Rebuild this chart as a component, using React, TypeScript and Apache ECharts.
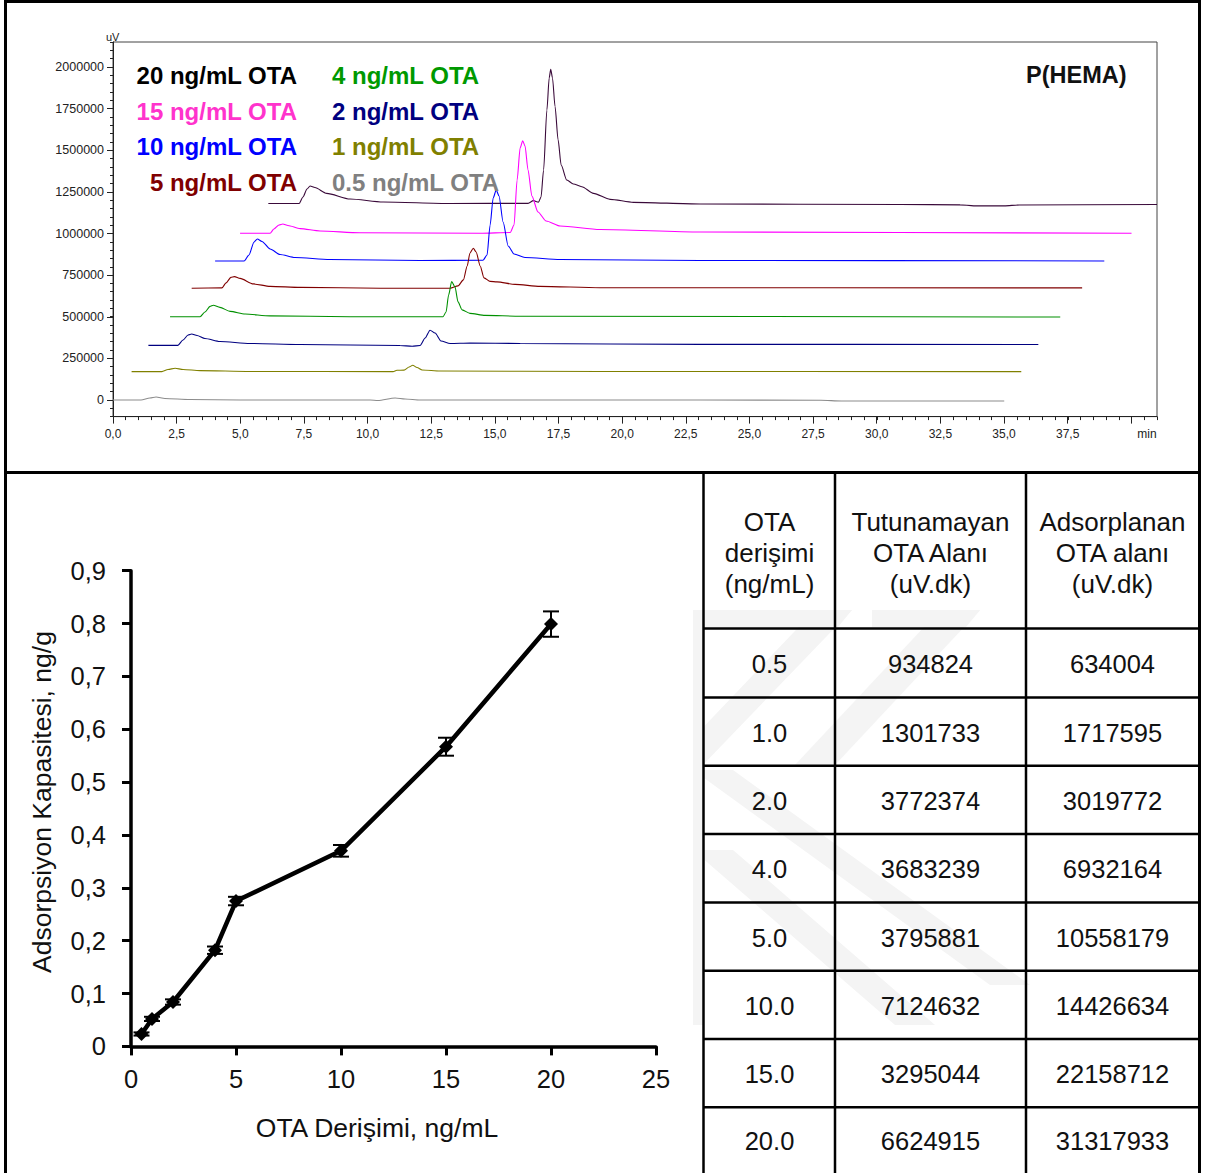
import React, { useEffect, useRef } from "react";
import * as echarts from "echarts";

const W = 1206;
const H = 1173;
const FONT = "Arial, 'Liberation Sans', sans-serif";

// ---------- Chromatogram traces: [time (min), signal (uV)] ----------
const trace20 = [
  [6.1, 1180000], [7.31, 1180000], [7.46, 1219000], [7.62, 1267000], [7.74, 1285000], [7.93, 1276000],
  [8.39, 1241000], [9.31, 1207000], [10.61, 1189000], [13.24, 1180000], [16.3, 1181000], [16.51, 1197000],
  [16.71, 1188000], [16.81, 1219000], [16.91, 1381000], [17.04, 1742000], [17.13, 1934000], [17.19, 1986000],
  [17.26, 1934000], [17.36, 1762000], [17.48, 1562000], [17.6, 1411000], [17.82, 1321000], [18.08, 1297000],
  [18.41, 1281000], [18.87, 1241000], [19.52, 1205000], [20.44, 1187000], [23.06, 1177000], [30.92, 1174000],
  [33.27, 1172000], [33.8, 1166000], [35.0, 1166000], [35.6, 1171000], [41.0, 1174000],
];
const trace15 = [
  [4.99, 1001000], [6.17, 1001000], [6.32, 1027000], [6.52, 1051000], [6.67, 1057000], [6.87, 1048000],
  [7.35, 1029000], [8.13, 1015000], [9.7, 1004000], [14.42, 1001000], [15.6, 1006000], [15.75, 1051000],
  [15.87, 1321000], [15.99, 1514000], [16.09, 1557000], [16.18, 1526000], [16.3, 1381000], [16.45, 1225000],
  [16.69, 1129000], [17.01, 1075000], [17.56, 1045000], [19.13, 1024000], [23.06, 1009000], [40.0, 1001000],
];
const trace10 = [
  [4.01, 835000], [5.15, 835000], [5.34, 871000], [5.54, 949000], [5.67, 967000], [5.85, 952000],
  [6.17, 907000], [6.56, 874000], [7.15, 856000], [8.52, 844000], [12.06, 838000], [14.53, 839000],
  [14.69, 871000], [14.81, 1051000], [14.93, 1213000], [15.05, 1261000], [15.16, 1225000], [15.32, 1069000],
  [15.52, 925000], [15.75, 877000], [16.18, 856000], [17.56, 844000], [23.06, 838000], [38.93, 835000],
];
const trace5 = [
  [3.09, 671000], [4.28, 673000], [4.44, 703000], [4.63, 736000], [4.77, 741000], [4.99, 730000],
  [5.51, 697000], [6.17, 682000], [7.35, 676000], [10.49, 671000], [13.24, 671000], [13.55, 685000],
  [13.76, 721000], [13.91, 805000], [14.02, 883000], [14.15, 911000], [14.26, 889000], [14.42, 805000],
  [14.57, 733000], [14.81, 712000], [15.08, 709000], [15.79, 694000], [16.77, 682000], [19.13, 674000],
  [38.06, 673000],
];
const trace4 = [
  [2.24, 500000], [3.42, 500000], [3.61, 528000], [3.81, 562000], [3.94, 569000], [4.2, 556000],
  [4.6, 532000], [5.19, 516000], [6.17, 505000], [9.31, 500000], [12.96, 500000], [13.08, 528000],
  [13.18, 630000], [13.3, 711000], [13.43, 679000], [13.55, 589000], [13.71, 541000], [14.02, 520000],
  [14.61, 508000], [15.99, 503000], [37.2, 498000],
];
const trace2 = [
  [1.39, 328000], [2.55, 328000], [2.75, 360000], [2.95, 390000], [3.09, 396000], [3.3, 387000],
  [3.61, 369000], [4.2, 351000], [5.38, 339000], [7.35, 333000], [11.27, 327000], [11.75, 323000],
  [12.06, 327000], [12.26, 372000], [12.45, 419000], [12.65, 402000], [12.88, 354000], [13.24, 339000],
  [14.02, 342000], [15.99, 339000], [23.06, 334000], [36.34, 333000],
];
const trace1 = [
  [0.73, 170000], [1.92, 170000], [2.16, 183000], [2.44, 190000], [2.75, 183000], [3.42, 176000],
  [5.38, 171000], [11.0, 170000], [11.15, 178000], [11.43, 179000], [11.63, 198000], [11.77, 208000],
  [11.94, 195000], [12.14, 180000], [12.85, 174000], [19.13, 171000], [35.67, 170000],
];
const trace05 = [
  [0, 0], [1.1, 0], [1.45, 12000], [1.69, 18000], [2.04, 9000], [3.02, 3000], [5.0, 0], [10.1, 0],
  [10.4, -3000], [11.08, 12000], [11.47, 6000], [12.06, 0], [23.06, 0], [27.8, -2000], [28.6, -6000],
  [35.0, -6000],
];

const traces = [trace20, trace15, trace10, trace5, trace4, trace2, trace1, trace05];
const traceNames = [
  "20 ng/mL OTA", "15 ng/mL OTA", "10 ng/mL OTA", "5 ng/mL OTA",
  "4 ng/mL OTA", "2 ng/mL OTA", "1 ng/mL OTA", "0.5 ng/mL OTA",
];
const traceColors = ["#3a0a3a", "#ff00ff", "#0000ff", "#800000", "#009000", "#000080", "#808000", "#8c8c8c"];
const legendColors = ["#000000", "#ff33cc", "#0000ff", "#800000", "#009900", "#000080", "#808000", "#808080"];

// ---------- Adsorption capacity ----------
const otaConc = [0.5, 1, 2, 4, 5, 10, 15, 20];
const capacity = [0.0235, 0.052, 0.084, 0.182, 0.275, 0.37, 0.567, 0.799];
const capacityErr = [0.003, 0.004, 0.005, 0.007, 0.008, 0.011, 0.017, 0.024];

// ---------- Table ----------
const tableHeaders = [
  ["OTA", "derişimi", "(ng/mL)"],
  ["Tutunamayan", "OTA Alanı", "(uV.dk)"],
  ["Adsorplanan", "OTA alanı", "(uV.dk)"],
];
const tableConc = ["0.5", "1.0", "2.0", "4.0", "5.0", "10.0", "15.0", "20.0"];
const tableUnretained = ["934824", "1301733", "3772374", "3683239", "3795881", "7124632", "3295044", "6624915"];
const tableAdsorbed = ["634004", "1717595", "3019772", "6932164", "10558179", "14426634", "22158712", "31317933"];

function txt(text: string, x: number, y: number, size: number, color: string, align = "center", weight = "normal", extra: any = {}) {
  return {
    type: "text",
    x,
    y,
    z: 20,
    ...extra,
    style: {
      text,
      fill: color,
      fontSize: size,
      fontFamily: FONT,
      fontWeight: weight,
      align,
      textAlign: align,
      verticalAlign: "middle",
      textVerticalAlign: "middle",
    },
  };
}
function ln(x1: number, y1: number, x2: number, y2: number, w: number, color = "#000") {
  return { type: "line", z: 15, shape: { x1, y1, x2, y2 }, style: { stroke: color, lineWidth: w } };
}
const WM = "#f4f4f4";
function poly(points: number[][]) {
  return { type: "polygon", z: 1, shape: { points }, style: { fill: WM } };
}

function buildOption() {
  const commaFmt = (v: number, d: number) => v.toFixed(d).replace(".", ",");

  const graphics: any[] = [];
  // watermark
  graphics.push(poly([[693, 610], [852, 610], [838, 627], [693, 627]]));
  graphics.push(poly([[815, 610], [852, 610], [700, 768], [693, 768], [693, 738]]));
  graphics.push(poly([[872, 610], [980, 610], [966, 627], [872, 627]]));
  graphics.push(poly([[940, 610], [980, 610], [835, 765], [795, 765]]));
  graphics.push(poly([[693, 770], [733, 770], [1030, 985], [990, 985]]));
  graphics.push(poly([[693, 850], [733, 850], [935, 1025], [895, 1025]]));
  graphics.push({ type: "rect", z: 1, shape: { x: 693, y: 610, width: 10, height: 415 }, style: { fill: WM } });

  // frame
  graphics.push(ln(5.5, 0, 5.5, H, 3));
  graphics.push(ln(4, 1.5, 1201, 1.5, 3));
  graphics.push(ln(1199.5, 0, 1199.5, H, 3));
  graphics.push(ln(4, 472.5, 1201, 472.5, 3));

  // table grid
  [703.5, 835, 1026].forEach((x) => graphics.push(ln(x, 472, x, H, 2.5)));
  const rowLines = [628.5, 697.5, 765.7, 834, 902.5, 970.7, 1039, 1107.2];
  rowLines.forEach((y) => graphics.push(ln(703, y, 1200, y, 2.5)));
  const colCenters = [769.5, 930.5, 1112.5];
  const headerYs = [522, 553, 584];
  tableHeaders.forEach((lines, c) =>
    lines.forEach((t, i) => graphics.push(txt(t, colCenters[c], headerYs[i], 26, "#111")))
  );
  const rowBounds = [...rowLines, H];
  tableConc.forEach((_, r) => {
    const yc = (rowBounds[r] + rowBounds[r + 1]) / 2 + 1;
    graphics.push(txt(tableConc[r], colCenters[0], yc, 25.5, "#111"));
    graphics.push(txt(tableUnretained[r], colCenters[1], yc, 25.5, "#111"));
    graphics.push(txt(tableAdsorbed[r], colCenters[2], yc, 25.5, "#111"));
  });

  // chromatogram texts
  graphics.push(txt("uV", 106, 37, 11, "#222", "left"));
  graphics.push(txt("min", 1147, 433.5, 12, "#222", "center"));
  const legendYs = [75, 111, 146, 182];
  traceNames.forEach((name, i) => {
    const col = i < 4 ? 0 : 1;
    const row = i % 4;
    graphics.push(txt(name, col === 0 ? 297 : 332, legendYs[row], 24, legendColors[i], col === 0 ? "right" : "left", "bold"));
  });
  graphics.push(txt("P(HEMA)", 1026, 75, 23.5, "#111", "left", "bold"));

  // bottom chart titles
  graphics.push(txt("Adsorpsiyon Kapasitesi, ng/g", 42, 802, 26.5, "#111", "center", "normal", { rotation: Math.PI / 2 }));
  graphics.push(txt("OTA Derişimi, ng/mL", 377, 1128, 26.5, "#111", "center"));

  const axisColor = "#222";

  return {
    animation: false,
    backgroundColor: "#ffffff",
    grid: [
      { left: 113, top: 42, width: 1044, height: 374.6, show: true, borderColor: "#444", borderWidth: 1, backgroundColor: "transparent" },
      { left: 113, top: 67, width: 1044, height: 333 },
      { left: 113, top: 42, width: 1018.3, height: 374.6 },
      { left: 131, top: 570.7, width: 525, height: 475.7 },
    ],
    xAxis: [
      {
        gridIndex: 0, type: "value", min: 0, max: 41, interval: 0.5,
        axisLine: { onZero: false, lineStyle: { color: axisColor, width: 1 } },
        axisTick: { length: 3.5, lineStyle: { color: axisColor, width: 1 } },
        axisLabel: { show: false }, splitLine: { show: false },
      },
      { gridIndex: 1, type: "value", min: 0, max: 41, show: false },
      {
        gridIndex: 2, type: "value", min: 0, max: 40, interval: 2.5,
        axisLine: { show: false, onZero: false },
        axisTick: { length: 7, lineStyle: { color: axisColor, width: 1 } },
        axisLabel: {
          fontSize: 12, fontFamily: FONT, color: "#222", margin: 11,
          formatter: (v: number) => (v >= 40 ? "" : commaFmt(v, 1)),
        },
        splitLine: { show: false },
      },
      {
        gridIndex: 3, type: "value", min: 0, max: 25, interval: 5,
        axisLine: { onZero: false, lineStyle: { color: "#000", width: 3.5 } },
        axisTick: { length: 9, lineStyle: { color: "#000", width: 3 } },
        axisLabel: { fontSize: 25.5, fontFamily: FONT, color: "#111", margin: 20 },
        splitLine: { show: false },
      },
    ],
    yAxis: [
      {
        gridIndex: 0, type: "value", min: -100000, max: 2150000, interval: 50000,
        axisLine: { show: true, onZero: false, lineStyle: { color: axisColor, width: 1 } },
        axisTick: { show: true, length: 3, lineStyle: { color: axisColor, width: 1 } },
        axisLabel: { show: false }, splitLine: { show: false },
      },
      {
        gridIndex: 1, type: "value", min: 0, max: 2000000, interval: 250000,
        axisLine: { show: false, onZero: false },
        axisTick: { show: true, length: 6, lineStyle: { color: axisColor, width: 1 } },
        axisLabel: { fontSize: 12.5, fontFamily: FONT, color: "#222", margin: 9, formatter: (v: number) => String(v) },
        splitLine: { show: false },
      },
      { gridIndex: 2, type: "value", min: 0, max: 1, show: false },
      {
        gridIndex: 3, type: "value", min: 0, max: 0.9, interval: 0.1,
        axisLine: { show: true, onZero: false, lineStyle: { color: "#000", width: 3.5 } },
        axisTick: { show: true, length: 9, lineStyle: { color: "#000", width: 3 } },
        axisLabel: {
          fontSize: 25.5, fontFamily: FONT, color: "#111", margin: 25,
          formatter: (v: number) => (v === 0 ? "0" : commaFmt(v, 1)),
        },
        splitLine: { show: false },
      },
    ],
    series: [
      ...traces.map((t, i) => ({
        type: "line",
        name: traceNames[i],
        xAxisIndex: 0,
        yAxisIndex: 0,
        data: t,
        showSymbol: false,
        symbol: "none",
        smooth: 0.25,
        smoothMonotone: "x",
        silent: true,
        lineStyle: { color: traceColors[i], width: 1.1 },
        z: 3,
      })),
      {
        type: "custom",
        xAxisIndex: 3,
        yAxisIndex: 3,
        silent: true,
        z: 4,
        data: otaConc.map((c, i) => [c, capacity[i], capacityErr[i]]),
        encode: { x: 0, y: 1 },
        renderItem: (_p: any, api: any) => {
          const x = api.value(0);
          const y = api.value(1);
          const e = api.value(2);
          const lo = api.coord([x, y - e]);
          const hi = api.coord([x, y + e]);
          const hw = 8;
          const st = { stroke: "#000", lineWidth: 2 };
          return {
            type: "group",
            children: [
              { type: "line", shape: { x1: lo[0], y1: lo[1], x2: hi[0], y2: hi[1] }, style: st },
              { type: "line", shape: { x1: lo[0] - hw, y1: lo[1], x2: lo[0] + hw, y2: lo[1] }, style: st },
              { type: "line", shape: { x1: hi[0] - hw, y1: hi[1], x2: hi[0] + hw, y2: hi[1] }, style: st },
            ],
          };
        },
      },
      {
        type: "line",
        name: "Adsorpsiyon Kapasitesi",
        xAxisIndex: 3,
        yAxisIndex: 3,
        data: otaConc.map((c, i) => [c, capacity[i]]),
        symbol: "diamond",
        symbolSize: 14,
        silent: true,
        z: 5,
        lineStyle: { color: "#000", width: 4.5 },
        itemStyle: { color: "#000" },
      },
    ],
    graphic: { elements: graphics },
  };
}

export default function App() {
  const ref = useRef<HTMLDivElement>(null);
  useEffect(() => {
    document.body.style.margin = "0";
    const chart = echarts.init(ref.current as HTMLDivElement, null, { renderer: "svg", width: W, height: H });
    chart.setOption(buildOption() as any);
    return () => chart.dispose();
  }, []);
  return <div ref={ref} style={{ width: W, height: H, background: "#fff" }} />;
}
